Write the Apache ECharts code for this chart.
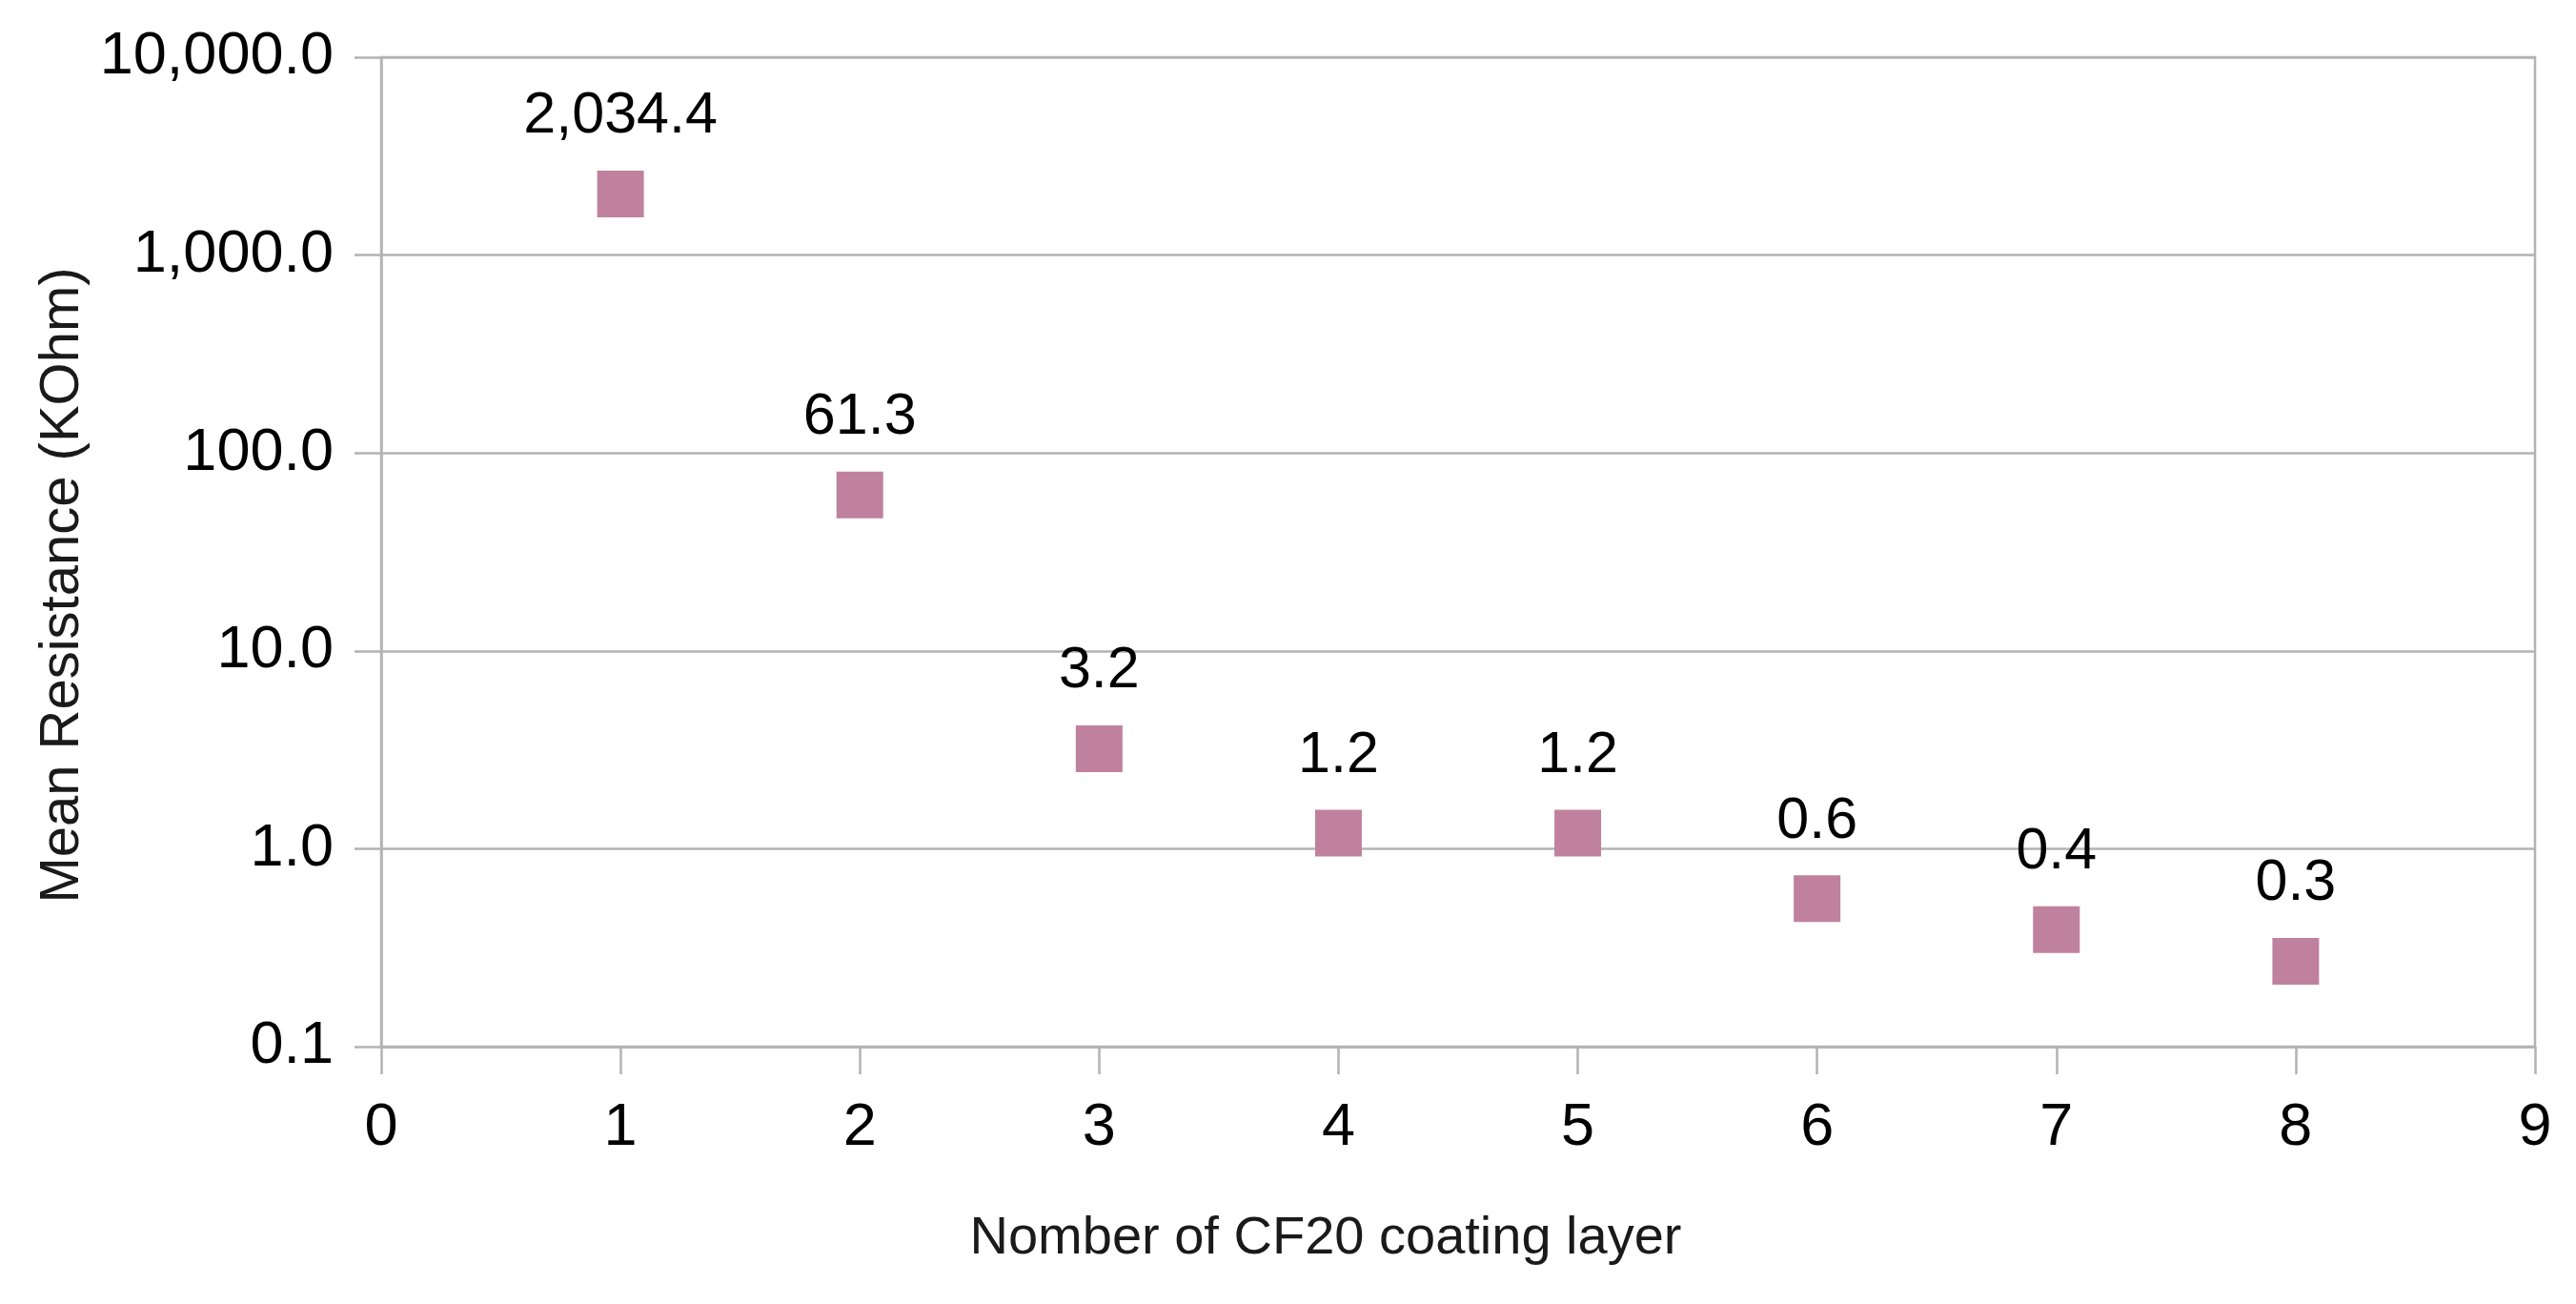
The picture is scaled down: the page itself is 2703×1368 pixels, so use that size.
<!DOCTYPE html>
<html>
<head>
<meta charset="utf-8">
<script src="https://cdn.jsdelivr.net/npm/echarts@6/dist/echarts.min.js"></script>
<style>
html,body{margin:0;padding:0;background:#fff;}
#chart{width:2703px;height:1368px;}
</style>
</head>
<body>
<div id="chart"></div>
<script>
const layers = [1, 2, 3, 4, 5, 6, 7, 8];
const resistance = [2034.4, 61.3, 3.2, 1.2, 1.2, 0.56, 0.39, 0.27];
const xAxisTitle = 'Nomber of CF20 coating layer';
const yAxisTitle = 'Mean Resistance (KOhm)';

const fmt = v => Number(v).toLocaleString('en-US', {minimumFractionDigits: 1, maximumFractionDigits: 1});
const FONT = '"Liberation Sans", Arial, sans-serif';
const GRID_COLOR = '#b3b3b3';

const chart = echarts.init(document.getElementById('chart'), null, {renderer: 'canvas'});
chart.setOption({
  animation: false,
  backgroundColor: '#ffffff',
  grid: {
    left: 400, right: 43, top: 60, bottom: 270,
    show: true, borderColor: GRID_COLOR, borderWidth: 2.5, backgroundColor: 'transparent'
  },
  xAxis: {
    type: 'value', min: 0, max: 9, interval: 1,
    axisLine: {show: true, onZero: false, lineStyle: {color: GRID_COLOR, width: 2.5}},
    axisTick: {show: true, length: 29, lineStyle: {color: GRID_COLOR, width: 2.5}},
    splitLine: {show: false},
    axisLabel: {color: '#000', fontFamily: FONT, fontSize: 63, margin: 54}
  },
  yAxis: {
    type: 'log', logBase: 10, min: 0.1, max: 10000,
    axisLine: {show: true, lineStyle: {color: GRID_COLOR, width: 2.5}},
    axisTick: {show: true, length: 28, lineStyle: {color: GRID_COLOR, width: 2.5}},
    splitLine: {show: true, lineStyle: {color: GRID_COLOR, width: 2.5}},
    minorTick: {show: false},
    axisLabel: {color: '#000', fontFamily: FONT, fontSize: 63, margin: 50, formatter: v => fmt(v)}
  },
  graphic: [
    {type: 'text', x: 1391, y: 1300, style: {text: xAxisTitle, font: '56px ' + FONT, fill: '#1a1a1a', textAlign: 'center', textVerticalAlign: 'middle'}},
    {type: 'text', x: 66, y: 614, rotation: Math.PI / 2, style: {text: yAxisTitle, font: '58px ' + FONT, fill: '#1a1a1a', textAlign: 'center', textVerticalAlign: 'middle'}}
  ],
  series: [{
    type: 'scatter',
    symbol: 'rect',
    symbolSize: 49,
    data: layers.map((x, i) => [x, resistance[i]]),
    itemStyle: {color: '#bf819e', opacity: 1},
    label: {
      show: true, position: 'top', distance: 26,
      color: '#000', fontFamily: FONT, fontSize: 61,
      formatter: p => fmt(p.value[1])
    }
  }]
});
</script>
</body>
</html>
